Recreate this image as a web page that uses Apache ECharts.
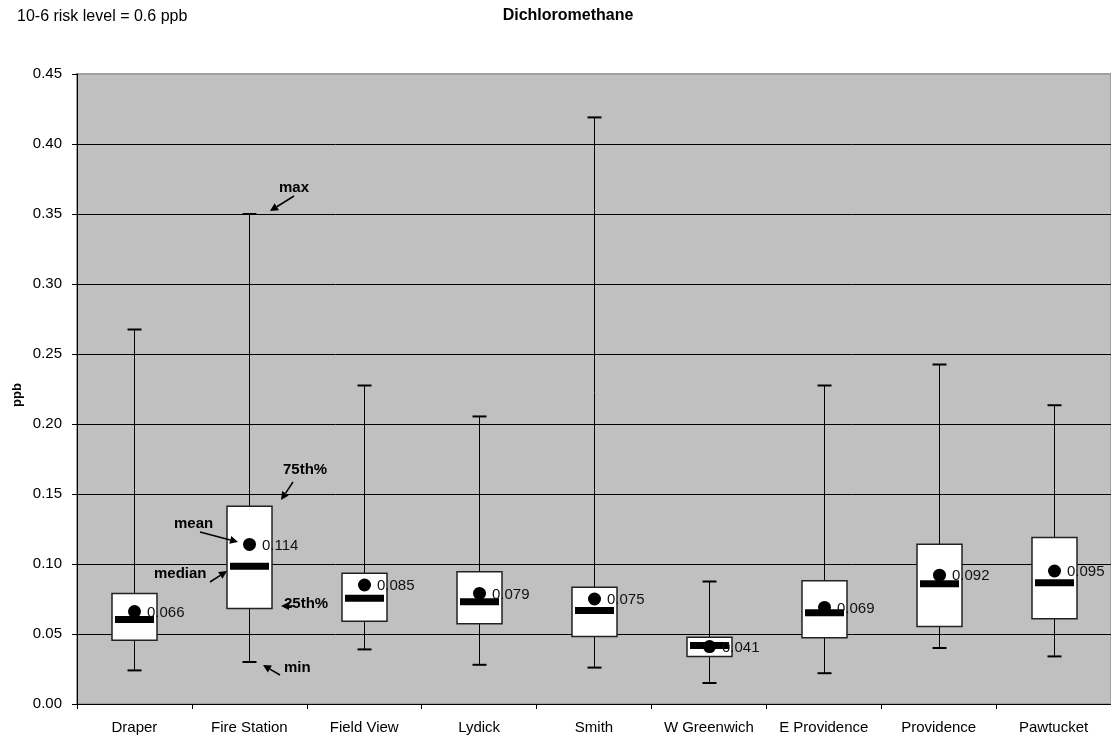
<!DOCTYPE html>
<html>
<head>
<meta charset="utf-8">
<script src="https://cdn.jsdelivr.net/npm/echarts@6/dist/echarts.min.js"></script>
<style>
html,body{margin:0;padding:0;background:#fff;}
#chart{width:1111px;height:740px;}
</style>
</head>
<body>
<div id="chart"></div>
<script>
var categories = ['Draper','Fire Station','Field View','Lydick','Smith','W Greenwich','E Providence','Providence','Pawtucket'];
var minVals    = [0.024, 0.030, 0.039, 0.028, 0.026, 0.015, 0.022, 0.040, 0.034];
var q1Vals     = [0.0456, 0.0682, 0.0591, 0.0573, 0.0482, 0.0339, 0.0473, 0.0554, 0.0609];
var medianVals = [0.0604, 0.0984, 0.0756, 0.0730, 0.0668, 0.0418, 0.0651, 0.0859, 0.0866];
var q3Vals     = [0.0789, 0.1413, 0.0934, 0.0944, 0.0834, 0.0477, 0.0880, 0.1141, 0.1189];
var maxVals    = [0.2675, 0.350, 0.2275, 0.2054, 0.419, 0.0875, 0.2275, 0.2425, 0.2134];
var meanVals   = [0.066, 0.114, 0.085, 0.079, 0.075, 0.041, 0.069, 0.092, 0.095];
var meanLabels = ['0.066','0.114','0.085','0.079','0.075','0.041','0.069','0.092','0.095'];
var yTicks     = [0, 0.05, 0.10, 0.15, 0.20, 0.25, 0.30, 0.35, 0.40, 0.45];

var FONT = '"Liberation Sans", Arial, sans-serif';

var boxData = categories.map(function (c, i) {
  return [i, minVals[i], q1Vals[i], medianVals[i], q3Vals[i], maxVals[i], meanVals[i]];
});

function renderBox(params, api) {
  var i = api.value(0);
  var pMin = api.coord([i, api.value(1)]);
  var pQ1 = api.coord([i, api.value(2)]);
  var pMed = api.coord([i, api.value(3)]);
  var pQ3 = api.coord([i, api.value(4)]);
  var pMax = api.coord([i, api.value(5)]);
  var pMean = api.coord([i, api.value(6)]);
  var x = Math.round(pMin[0]) + 0.5;
  var boxW = 45, capW = 14, medW = 39, medH = 7;
  return {
    type: 'group',
    children: [
      { type: 'line', shape: { x1: x, y1: pMax[1], x2: x, y2: pMin[1] },
        style: { stroke: '#000', lineWidth: 1 } },
      { type: 'line', shape: { x1: x - capW / 2, y1: pMax[1], x2: x + capW / 2, y2: pMax[1] },
        style: { stroke: '#000', lineWidth: 2 } },
      { type: 'line', shape: { x1: x - capW / 2, y1: pMin[1], x2: x + capW / 2, y2: pMin[1] },
        style: { stroke: '#000', lineWidth: 2 } },
      { type: 'rect', shape: { x: x - boxW / 2, y: pQ3[1], width: boxW, height: pQ1[1] - pQ3[1] },
        style: { fill: '#fff', stroke: '#222', lineWidth: 1.5 } },
      { type: 'rect', shape: { x: x - medW / 2, y: pMed[1] - medH / 2, width: medW, height: medH },
        style: { fill: '#000' } },
      { type: 'circle', shape: { cx: x, cy: pMean[1], r: 6.5 },
        style: { fill: '#000' } },
      { type: 'text', x: x + 12.5, y: pMean[1] + 1,
        style: { text: meanLabels[params.dataIndex], fill: '#111', font: '15px ' + FONT,
                 textAlign: 'left', textVerticalAlign: 'middle' } }
    ]
  };
}

// annotation callouts (text + arrow)
var notes = [
  { text: 'max',   tx: 279, ty: 188, from: [294, 196], to: [270, 211] },
  { text: '75th%', tx: 283, ty: 470, from: [293, 482], to: [281, 500] },
  { text: 'mean',  tx: 174, ty: 524, from: [200, 532], to: [238, 542] },
  { text: 'median',tx: 154, ty: 574, from: [210, 582], to: [227, 571] },
  { text: '25th%', tx: 284, ty: 604, from: [294, 606], to: [281, 606] },
  { text: 'min',   tx: 284, ty: 668, from: [280, 675], to: [263, 665] }
];
var graphics = [
  { type: 'text', x: 17, y: 17,
    style: { text: '10-6 risk level = 0.6 ppb', fill: '#000', font: '16px ' + FONT, textVerticalAlign: 'middle' } },
  { type: 'text', x: 568, y: 16,
    style: { text: 'Dichloromethane', fill: '#000', font: 'bold 16px ' + FONT, textAlign: 'center', textVerticalAlign: 'middle' } },
  { type: 'text', x: 17, y: 395, rotation: Math.PI / 2,
    style: { text: 'ppb', fill: '#000', font: 'bold 13px ' + FONT, textAlign: 'center', textVerticalAlign: 'middle' } }
];
notes.forEach(function (n) {
  graphics.push({ type: 'text', x: n.tx, y: n.ty, z: 100,
    style: { text: n.text, fill: '#000', font: 'bold 15px ' + FONT, textVerticalAlign: 'middle' } });
  var dx = n.to[0] - n.from[0], dy = n.to[1] - n.from[1];
  var len = Math.sqrt(dx * dx + dy * dy);
  var ux = dx / len, uy = dy / len;
  var hl = 8, hw = 4;
  var bx = n.to[0] - ux * hl, by = n.to[1] - uy * hl;
  graphics.push({ type: 'line', z: 100,
    shape: { x1: n.from[0], y1: n.from[1], x2: bx, y2: by },
    style: { stroke: '#000', lineWidth: 1.5 } });
  graphics.push({ type: 'polygon', z: 100,
    shape: { points: [[n.to[0], n.to[1]], [bx - uy * hw, by + ux * hw], [bx + uy * hw, by - ux * hw]] },
    style: { fill: '#000' } });
});

var chart = echarts.init(document.getElementById('chart'), null, { renderer: 'canvas' });
chart.setOption({
  animation: false,
  backgroundColor: '#fff',
  grid: { left: 77, top: 74, width: 1038, height: 630, show: true,
          backgroundColor: '#C0C0C0', borderColor: '#a0a0a0', borderWidth: 2 },
  xAxis: {
    type: 'category', data: categories, boundaryGap: true,
    axisLine: { lineStyle: { color: '#000', width: 1 } },
    axisTick: { show: true, length: 5, lineStyle: { color: '#000' } },
    axisLabel: { color: '#000', fontFamily: FONT, fontSize: 15, margin: 16, interval: 0 },
    splitLine: { show: false }
  },
  yAxis: {
    type: 'value', min: 0, max: 0.45, interval: 0.05,
    axisLine: { show: true, lineStyle: { color: '#000', width: 1 } },
    axisTick: { show: true, length: 5, lineStyle: { color: '#000' } },
    axisLabel: { color: '#000', fontFamily: FONT, fontSize: 15, margin: 15,
                 formatter: function (v) { return v.toFixed(2); } },
    splitLine: { show: true, showMaxLine: false, lineStyle: { color: '#000', width: 1 } }
  },
  series: [{
    type: 'custom',
    renderItem: renderBox,
    data: boxData,
    encode: { x: 0, y: [1, 2, 3, 4, 5, 6] },
    clip: false
  }],
  graphic: graphics
});
</script>
</body>
</html>
